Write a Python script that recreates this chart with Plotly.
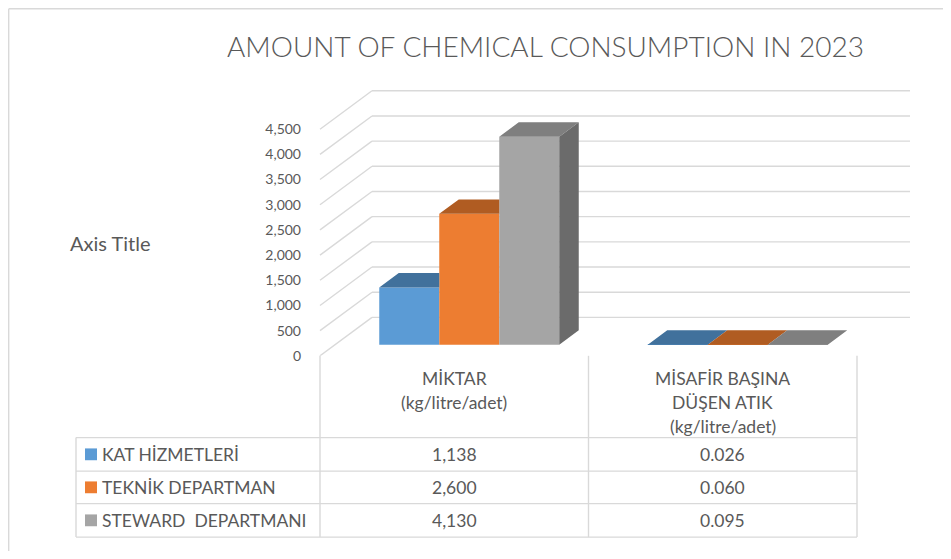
import plotly.graph_objects as go

# ---------------- data ----------------
title_text = "AMOUNT OF CHEMICAL CONSUMPTION IN 2023"
axis_title_text = "Axis Title"
categories = [["MİKTAR", "(kg/litre/adet)"],
              ["MİSAFİR BAŞINA", "DÜŞEN ATIK", "(kg/litre/adet)"]]
series_names = ["KAT HİZMETLERİ", "TEKNİK DEPARTMAN", "STEWARD  DEPARTMANI"]
kat_hizmetleri = [1138, 0.026]
teknik_departman = [2600, 0.060]
steward_departmani = [4130, 0.095]
value_formats = ["{:,.0f}", "{:.3f}"]
y_ticks = [0, 500, 1000, 1500, 2000, 2500, 3000, 3500, 4000, 4500]

series_values = [kat_hizmetleri, teknik_departman, steward_departmani]

# ---------------- styles / geometry ----------------
FONT = "Lato"
TXT = "#595959"
GRID = "#d9d9d9"
front_colors = ["#5b9bd5", "#ed7d31", "#a5a5a5"]
top_colors = ["#41719c", "#b05c22", "#7f7f7f"]
side_colors = ["#41719c", "#ad5a20", "#6b6b6b"]

SW, SH = 951, 559             # screen size
OFF = 8                       # page body margin: screen px = figure px + OFF
W, H = SW - 2 * OFF, SH - 2 * OFF  # figure size so the page fits the window exactly
K = 230 / 4500.0              # pixels per value unit
Y0PX = 361                    # screen row of value 0 on the front plane
X0 = 320                      # screen x of front-left of category axis
CAT_W = 268.5
FLOOR_DX, FLOOR_DY = 52, 39
BACK_X1 = 910
BAR_W = 60
GAP = (CAT_W - 3 * BAR_W) / 2
BAR_DX, BAR_DY = 15, 11.25
DEP_DX, DEP_DY = 19.5, 14.6


def u(p):
    return p / K


def px(x):
    return (x - OFF) / W


def py(y):
    return 1 - (y - OFF) / H


fig = go.Figure()
shapes = []
annotations = []

# walls (side wall diagonals + back wall gridlines) from tick values
for t in y_ticks:
    shapes.append(dict(type="line", xref="x", yref="y", layer="below",
                       x0=X0, y0=t, x1=X0 + FLOOR_DX, y1=t + u(FLOOR_DY),
                       line=dict(color=GRID, width=1.4)))
    shapes.append(dict(type="line", xref="x", yref="y", layer="below",
                       x0=X0 + FLOOR_DX, y0=t + u(FLOOR_DY), x1=BACK_X1, y1=t + u(FLOOR_DY),
                       line=dict(color=GRID, width=1.4)))

base = u(BAR_DY)
dy_u = u(DEP_DY)

# front faces as bars
for j, (name, vals) in enumerate(zip(series_names, series_values)):
    xs = [X0 + i * CAT_W + GAP + BAR_DX + j * BAR_W + BAR_W / 2 for i in range(len(vals))]
    fig.add_trace(go.Bar(x=xs, y=vals, base=base, width=BAR_W, name=name,
                         marker=dict(color=front_colors[j], line=dict(width=0)),
                         showlegend=False, hoverinfo="skip"))

# top and side faces
for j, vals in enumerate(series_values):
    tx, ty, sx, sy = [], [], [], []
    for i, val in enumerate(vals):
        x0 = X0 + i * CAT_W + GAP + BAR_DX + j * BAR_W
        x1 = x0 + BAR_W
        v = base + val
        nxt = series_values[j + 1][i] if j + 1 < len(series_values) else None
        if nxt is not None and nxt > val + dy_u:
            tx += [x0, x1, x1, x0 + DEP_DX, x0, None]
            ty += [v, v, v + dy_u, v + dy_u, v, None]
        else:
            tx += [x0, x1, x1 + DEP_DX, x0 + DEP_DX, x0, None]
            ty += [v, v, v + dy_u, v + dy_u, v, None]
        if nxt is None and val > 0.01 * y_ticks[-1]:
            sx += [x1, x1, x1 + DEP_DX, x1 + DEP_DX, x1, None]
            sy += [base, v, v + dy_u, base + dy_u, base, None]
    fig.add_trace(go.Scatter(x=tx, y=ty, mode="lines", fill="toself",
                             fillcolor=top_colors[j], line=dict(width=0),
                             showlegend=False, hoverinfo="skip"))
    if sx:
        fig.add_trace(go.Scatter(x=sx, y=sy, mode="lines", fill="toself",
                                 fillcolor=side_colors[j], line=dict(width=0),
                                 showlegend=False, hoverinfo="skip"))

# ---------------- data table ----------------
T_LEFT, T_RIGHT = 76, X0 + 2 * CAT_W
ROW_Y = [444, 478, 511, 545]
col_x = [X0 + i * CAT_W for i in range(len(categories) + 1)]


def pline(x0, y0, x1, y1):
    shapes.append(dict(type="line", xref="paper", yref="paper",
                       x0=px(x0), y0=py(y0), x1=px(x1), y1=py(y1),
                       line=dict(color=GRID, width=1.4)))


for cx in col_x:
    pline(cx, Y0PX, cx, ROW_Y[-1])
pline(T_LEFT, ROW_Y[0], T_LEFT, ROW_Y[-1])
for ry in ROW_Y:
    pline(T_LEFT, ry, T_RIGHT, ry)

TABLE_FS = 17.5
# header (category labels)
for i, lines in enumerate(categories):
    cxm = X0 + (i + 0.5) * CAT_W
    for k, line in enumerate(lines):
        annotations.append(dict(xref="paper", yref="paper", x=px(cxm), y=py(384 + k * 24.5),
                                text=line, showarrow=False, xanchor="center", yanchor="middle",
                                font=dict(family=FONT, size=TABLE_FS, color=TXT)))

# rows
for j, (name, vals) in enumerate(zip(series_names, series_values)):
    rc = (ROW_Y[j] + ROW_Y[j + 1]) / 2
    shapes.append(dict(type="rect", xref="paper", yref="paper",
                       x0=px(85), x1=px(97), y0=py(rc - 6), y1=py(rc + 6),
                       fillcolor=front_colors[j], line=dict(width=0)))
    annotations.append(dict(xref="paper", yref="paper", x=px(100), y=py(rc),
                            text=name.replace("  ", "&nbsp; "), showarrow=False,
                            xanchor="left", yanchor="middle",
                            font=dict(family=FONT, size=TABLE_FS, color=TXT)))
    for i, val in enumerate(vals):
        annotations.append(dict(xref="paper", yref="paper", x=px(X0 + (i + 0.5) * CAT_W), y=py(rc),
                                text=value_formats[i].format(val), showarrow=False,
                                xanchor="center", yanchor="middle",
                                font=dict(family=FONT, size=TABLE_FS, color=TXT)))

# title and axis title
annotations.append(dict(xref="paper", yref="paper", x=px(545), y=py(47), text=title_text,
                        showarrow=False, xanchor="center", yanchor="middle",
                        font=dict(family=FONT, size=28, color=TXT, weight=300)))
annotations.append(dict(xref="paper", yref="paper", x=px(68), y=py(247), text=axis_title_text,
                        showarrow=False, xanchor="left", yanchor="middle",
                        font=dict(family=FONT, size=20, color=TXT)))

# outer chart border (top + left visible)
pline(8.7, 8.7, SW + 10, 8.7)
pline(8.7, 8.7, 8.7, SH + 10)

fig.update_layout(
    width=W, height=H,
    margin=dict(l=0, r=0, t=0, b=0),
    paper_bgcolor="white", plot_bgcolor="rgba(0,0,0,0)",
    barmode="overlay",
    shapes=shapes, annotations=annotations,
    xaxis=dict(domain=[0, 1], range=[OFF, OFF + W], visible=False, fixedrange=True),
    yaxis=dict(domain=[(H - (Y0PX - OFF)) / H, 1], range=[0, (Y0PX - OFF) / K],
               anchor="free", position=(X0 - OFF) / W,
               tickvals=y_ticks, ticktext=[f"{t:,}" for t in y_ticks],
               tickfont=dict(family=FONT, size=14, color=TXT),
               showgrid=False, zeroline=False, showline=False, ticks="",
               ticklabelstandoff=19, fixedrange=True),
    showlegend=False,
)

fig.write_html("out.html")
